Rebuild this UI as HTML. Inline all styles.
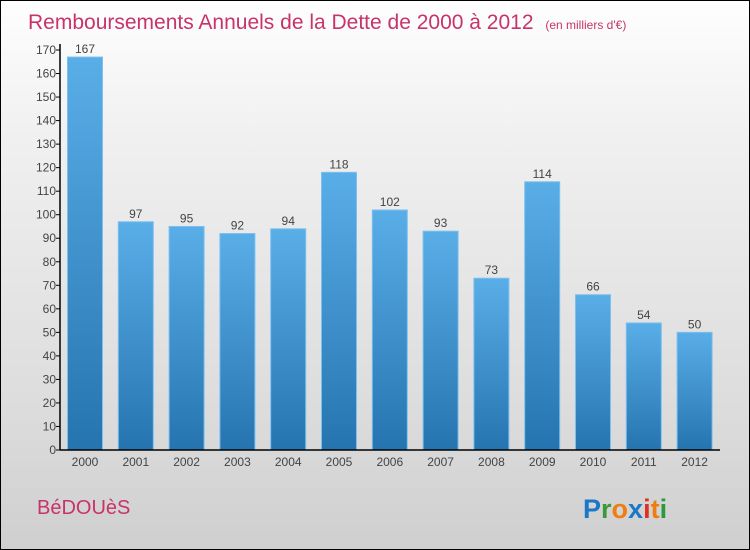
<!DOCTYPE html>
<html><head><meta charset="utf-8"><style>
body{margin:0}
#c{position:relative;width:748px;height:548px;border:1px solid #000;background:linear-gradient(#fefefe,#f0f0f0 25%,#dcdcdc 75%,#cfcfcf);font-family:"Liberation Sans",sans-serif;overflow:hidden}
</style></head><body>
<div id="c">
<svg id="s" width="748" height="548" xmlns="http://www.w3.org/2000/svg">
<defs><linearGradient id="g" x1="0" y1="0" x2="0" y2="1"><stop offset="0" stop-color="#5aaee8"/><stop offset="1" stop-color="#2574b0"/></linearGradient></defs>
<text x="27" y="28" font-size="21" fill="#c8336a">Remboursements Annuels de la Dette de 2000 à 2012 <tspan font-size="12" dx="6">(en milliers d'€)</tspan></text>
<text x="36" y="513" font-size="20" fill="#c8336a">BéDOUèS</text>
<g font-size="27" font-weight="bold" font-family="'Liberation Sans',sans-serif"><text x="582" y="517"><tspan fill="#1b78c8">P</tspan><tspan fill="#3a9a3a">r</tspan><tspan fill="#f07d10">o</tspan><tspan fill="#1b78c8">x</tspan><tspan fill="#e03020">i</tspan><tspan fill="#f07d10">t</tspan><tspan fill="#2a9a3a">i</tspan></text></g>
<g id="plot"></g>
</svg></div>
<script>
const categories=["2000","2001","2002","2003","2004","2005","2006","2007","2008","2009","2010","2011","2012"];
const values=[167,97,95,92,94,118,102,93,73,114,66,54,50];
const yTicks=[0,10,20,30,40,50,60,70,80,90,100,110,120,130,140,150,160,170];
const NS="http://www.w3.org/2000/svg";
const g=document.getElementById('plot');
const y0=449,yTop=49,yMax=170,x0=59,x1=719;
const y=v=>y0-(y0-yTop)*v/yMax;
const step=50.8,bw=35,xc=i=>84+i*step;
function mk(t,a){const e=document.createElementNS(NS,t);for(const k in a)e.setAttribute(k,a[k]);g.appendChild(e);return e;}
yTicks.forEach(v=>{
 const l=mk('line',{x1:x0-4,x2:x0,y1:y(v),y2:y(v),stroke:'#000'});
 
 
 const t=mk('text',{x:x0-4,y:y(v)+4,'text-anchor':'end','font-size':12,fill:'#444'});t.textContent=v;
 
 
});
values.forEach((v,i)=>{
 const r=mk('rect',{x:xc(i)-bw/2,y:y(v),width:bw,height:y0-y(v),fill:'url(#g)',stroke:'#7cc0ee','stroke-width':1});
 
 
 const t=mk('text',{x:xc(i),y:y(v)-4,'text-anchor':'middle','font-size':12,fill:'#444'});t.textContent=v;
 
 
 const c=mk('text',{x:xc(i),y:y0+16,'text-anchor':'middle','font-size':12,fill:'#444'});c.textContent=categories[i];
 
 
});
const ax=mk('line',{x1:x0,x2:x0,y1:yTop-6,y2:y0,stroke:'#000','stroke-width':1.5});


const bx=mk('line',{x1:x0,x2:x1,y1:y0,y2:y0,stroke:'#000','stroke-width':1.5});


</script>
</body></html>
